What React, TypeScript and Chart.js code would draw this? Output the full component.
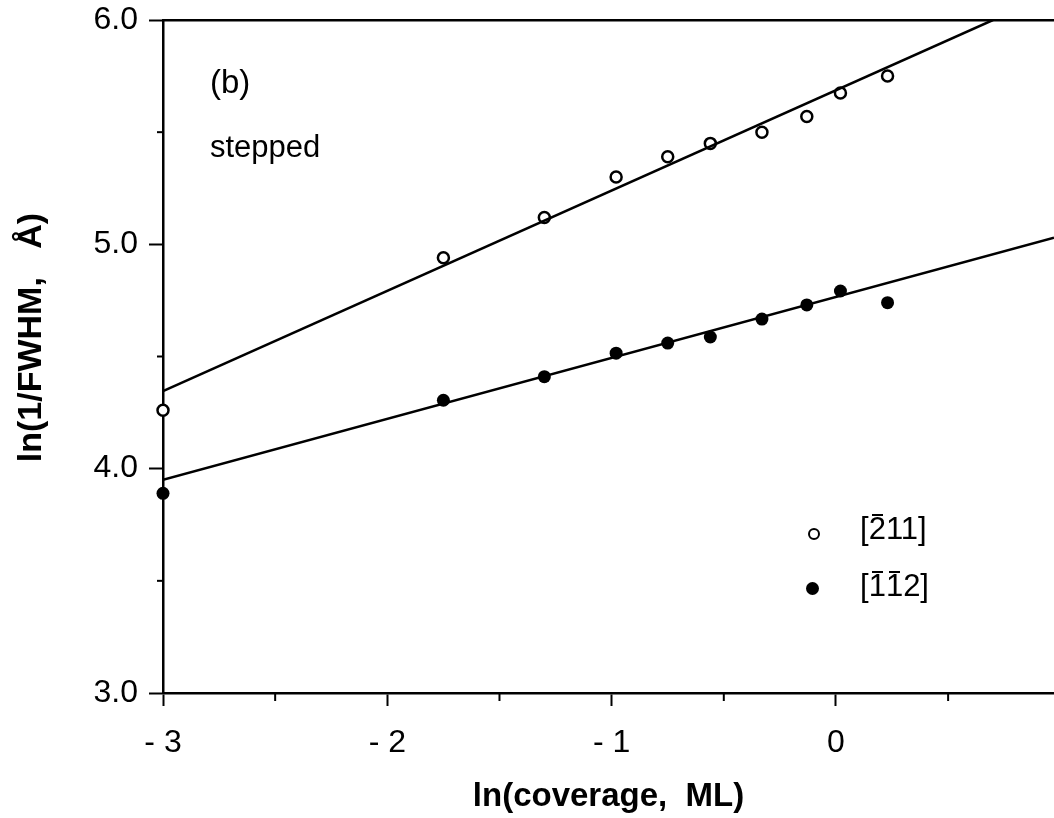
import React, { useEffect, useRef } from "react";
import { Chart, registerables } from "chart.js";

Chart.register(...registerables);

// ---- data ----
const coverageLn = [-3, -1.75, -1.3, -0.98, -0.75, -0.56, -0.33, -0.13, 0.02, 0.23];
const fwhmOpen = [4.26, 4.94, 5.12, 5.3, 5.39, 5.45, 5.5, 5.57, 5.675, 5.75];
const fwhmFilled = [3.89, 4.305, 4.41, 4.515, 4.56, 4.587, 4.667, 4.73, 4.792, 4.74];
const fitOpenX = [-3, 0.7];
const fitOpenY = [4.346, 6.0];
const fitFilledX = [-3, 0.972];
const fitFilledY = [3.95, 5.029];
const xMajorTicks = [-3, -2, -1, 0];
const xMinorTicks = [-2.5, -1.5, -0.5, 0.5];
const yMajorTicks = [3, 4, 5, 6];
const yMinorTicks = [3.5, 4.5, 5.5];
const xRange = [-3, 0.972];
const yRange = [3, 6];

const FONT = "'Liberation Sans', Arial, Helvetica, sans-serif";

const minorTicksPlugin = {
  id: "minorTicks",
  afterDraw(chart: any) {
    const { ctx, chartArea, scales } = chart;
    ctx.save();
    ctx.strokeStyle = "#000";
    ctx.lineWidth = 2;
    for (const v of yMinorTicks) {
      const py = scales.y.getPixelForValue(v);
      ctx.beginPath();
      ctx.moveTo(chartArea.left - 6, py);
      ctx.lineTo(chartArea.left, py);
      ctx.stroke();
    }
    for (const v of xMinorTicks) {
      const px = scales.x.getPixelForValue(v);
      ctx.beginPath();
      ctx.moveTo(px, chartArea.bottom);
      ctx.lineTo(px, chartArea.bottom + 8);
      ctx.stroke();
    }
    ctx.restore();
  },
};

const zeroPad = (s: any) => {
  s.paddingTop = 0;
  s.paddingBottom = 0;
  s.paddingLeft = 0;
  s.paddingRight = 0;
};

function Bar({ ch }: { ch: string }) {
  return (
    <span style={{ position: "relative", display: "inline-block" }}>
      {ch}
      <span
        style={{
          position: "absolute",
          left: 3,
          right: 3,
          top: 1,
          height: 2,
          background: "#000",
        }}
      />
    </span>
  );
}

export default function App() {
  const ref = useRef<HTMLCanvasElement | null>(null);

  useEffect(() => {
    if (!ref.current) return;
    const chart = new Chart(ref.current, {
      type: "scatter",
      data: {
        datasets: [
          {
            type: "line",
            data: fitOpenX.map((x, i) => ({ x, y: fitOpenY[i] })),
            borderColor: "#000",
            borderWidth: 2.5,
            pointRadius: 0,
            showLine: true,
            fill: false,
          } as any,
          {
            type: "line",
            data: fitFilledX.map((x, i) => ({ x, y: fitFilledY[i] })),
            borderColor: "#000",
            borderWidth: 2.5,
            pointRadius: 0,
            showLine: true,
            fill: false,
          } as any,
          {
            data: coverageLn.map((x, i) => ({ x, y: fwhmOpen[i] })),
            pointRadius: 5.5,
            pointBorderWidth: 2.5,
            pointBackgroundColor: "#fff",
            pointBorderColor: "#000",
            clip: false,
          } as any,
          {
            data: coverageLn.map((x, i) => ({ x, y: fwhmFilled[i] })),
            pointRadius: 6.5,
            pointBorderWidth: 0,
            pointBackgroundColor: "#000",
            pointBorderColor: "#000",
            clip: false,
          } as any,
        ],
      },
      options: {
        animation: false,
        responsive: false,
        layout: { autoPadding: false, padding: { top: 20, left: 0, right: 0, bottom: 0 } },
        plugins: { legend: { display: false }, tooltip: { enabled: false } },
        scales: {
          x: {
            type: "linear",
            position: "bottom",
            min: xRange[0],
            max: xRange[1],
            afterBuildTicks: (s: any) => {
              s.ticks = xMajorTicks.map((v) => ({ value: v }));
            },
            afterFit: (s: any) => {
              s.height = 125;
              zeroPad(s);
            },
            ticks: {
              autoSkip: false,
              maxRotation: 0,
              color: "#000",
              padding: 18,
              font: { family: FONT, size: 32 },
              callback: (v: any) => (v < 0 ? "- " + Math.abs(v) : String(v)),
            },
            grid: { drawOnChartArea: false, tickLength: 13, tickWidth: 2, tickColor: "#000" },
            border: { display: true, color: "#000", width: 2.5 },
            title: {
              display: true,
              text: "ln(coverage,  ML)",
              color: "#000",
              font: { family: FONT, size: 33, weight: "bold" },
              padding: { top: 0, bottom: 1 },
            },
          },
          xTop: {
            type: "linear",
            position: "top",
            min: xRange[0],
            max: xRange[1],
            afterFit: (s: any) => {
              s.height = 0;
              zeroPad(s);
            },
            ticks: { display: false },
            grid: { drawOnChartArea: false, drawTicks: false },
            border: { display: true, color: "#000", width: 2.5 },
          },
          y: {
            type: "linear",
            position: "left",
            min: yRange[0],
            max: yRange[1],
            afterBuildTicks: (s: any) => {
              s.ticks = yMajorTicks.map((v) => ({ value: v }));
            },
            afterFit: (s: any) => {
              s.width = 163;
              zeroPad(s);
            },
            ticks: {
              color: "#000",
              padding: 11,
              font: { family: FONT, size: 32 },
              callback: (v: any) => Number(v).toFixed(1),
            },
            grid: { drawOnChartArea: false, tickLength: 14, tickWidth: 2, tickColor: "#000" },
            border: { display: true, color: "#000", width: 2.5 },
            title: {
              display: true,
              text: "    ln(1/FWHM,   Å)",
              color: "#000",
              font: { family: FONT, size: 34, weight: "bold" },
              padding: { top: 11, bottom: 0 },
            },
          },
        },
      },
      plugins: [minorTicksPlugin],
    } as any);
    return () => chart.destroy();
  }, []);

  const txt: React.CSSProperties = {
    position: "absolute",
    fontFamily: FONT,
    fontSize: 31,
    lineHeight: "31px",
    color: "#000",
    whiteSpace: "pre",
  };

  return (
    <div
      style={{
        position: "fixed",
        left: 0,
        top: 0,
        width: 1054,
        height: 818,
        background: "#fff",
        overflow: "hidden",
      }}
    >
      <canvas ref={ref} width={1054} height={818} style={{ display: "block" }} />
      <div style={{ ...txt, left: 210, top: 65, fontSize: 33, lineHeight: "33px" }}>(b)</div>
      <div style={{ ...txt, left: 210, top: 131 }}>stepped</div>
      <div
        style={{
          position: "absolute",
          left: 808,
          top: 528,
          width: 8,
          height: 8,
          border: "2.5px solid #000",
          borderRadius: "50%",
          background: "#fff",
        }}
      />
      <div style={{ ...txt, left: 860, top: 513 }}>
        [<Bar ch="2" />11]
      </div>
      <div
        style={{
          position: "absolute",
          left: 806,
          top: 582,
          width: 13,
          height: 13,
          borderRadius: "50%",
          background: "#000",
        }}
      />
      <div style={{ ...txt, left: 860, top: 570 }}>
        [<Bar ch="1" />
        <Bar ch="1" />2]
      </div>
    </div>
  );
}
